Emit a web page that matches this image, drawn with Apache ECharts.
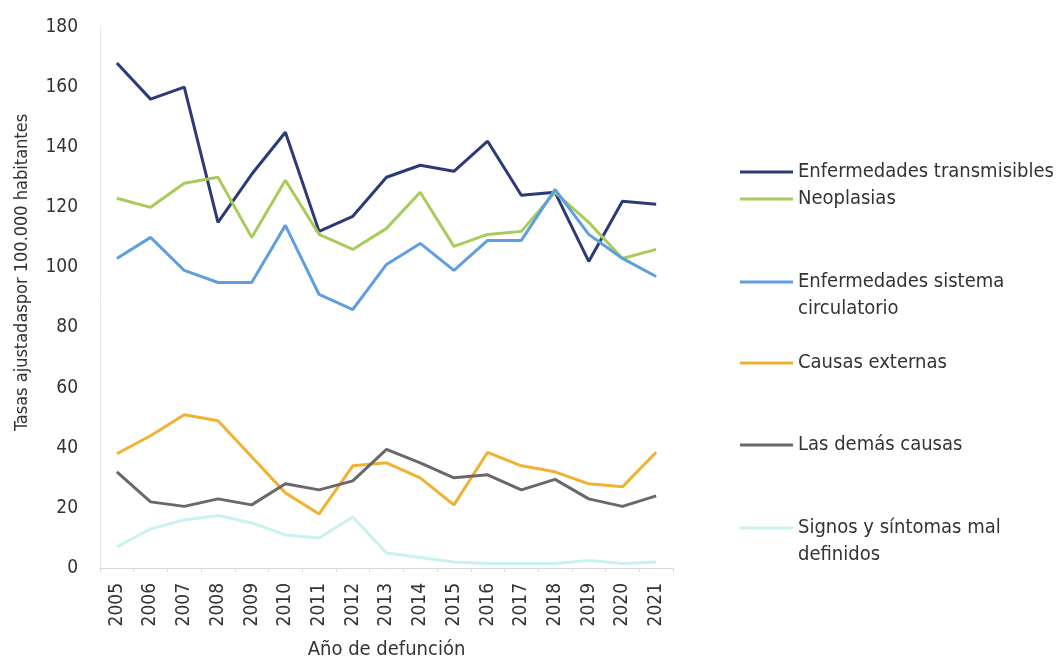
<!DOCTYPE html>
<html>
<head>
<meta charset="utf-8">
<script src="https://cdn.jsdelivr.net/npm/echarts@6/dist/echarts.min.js"></script>
<style>
  html, body { margin: 0; padding: 0; background: #fff; }
  #chart { width: 1060px; height: 660px; }
</style>
</head>
<body>
<div id="chart"></div>
<script>
"use strict";

// años de defunción
var years = ['2005', '2006', '2007', '2008', '2009', '2010', '2011', '2012', '2013',
             '2014', '2015', '2016', '2017', '2018', '2019', '2020', '2021'];

// tasas ajustadas por 100.000 habitantes
var transmisibles = [168, 156, 160, 115, 131, 145, 112, 117, 130, 134, 132, 142, 124, 125, 102, 122, 121];
var neoplasias    = [123, 120, 128, 130, 110, 129, 111, 106, 113, 125, 107, 111, 112, 125, 115, 103, 106];
var circulatorio  = [103, 110, 99, 95, 95, 114, 91, 86, 101, 108, 99, 109, 109, 126, 111, 103, 97];
var externas      = [38, 44, 51, 49, 37, 25, 18, 34, 35, 30, 21, 38.5, 34, 32, 28, 27, 38.5];
var demas         = [32, 22, 20.5, 23, 21, 28, 26, 29, 39.5, 35, 30, 31, 26, 29.5, 23, 20.5, 24];
var signos        = [7, 13, 16, 17.5, 15, 11, 10, 17, 5, 3.5, 2, 1.5, 1.5, 1.5, 2.5, 1.5, 2];

var seriesNames = ['Enfermedades transmisibles', 'Neoplasias',
  'Enfermedades sistema circulatorio', 'Causas externas', 'Las demás causas',
  'Signos y síntomas mal definidos'];
// texto de la leyenda (línea en blanco arriba para que la raya quede en la 1a línea)
var legendLabels = ['Enfermedades transmisibles', 'Neoplasias',
  ' \nEnfermedades sistema\ncirculatorio', 'Causas externas', 'Las demás causas',
  ' \nSignos y síntomas mal\ndefinidos'];
var seriesData = [transmisibles, neoplasias, circulatorio, externas, demas, signos];
var colors = ['#2c3a76', '#a8cc5c', '#5f9fe0', '#f0b232', '#6b676d', '#c9f2f0'];
var legendCenters = [172, 199, 282, 363, 445, 528];

var font = '"DejaVu Sans Condensed", "Liberation Sans", Arial, sans-serif';
var LH = 27;

var myChart = echarts.init(document.getElementById('chart'));

var series = [];
var legends = [];
for (var i = 0; i < seriesNames.length; i++) {
	series.push({
		name: seriesNames[i],
		type: 'line',
		data: seriesData[i],
		showSymbol: false,
		symbol: 'none',
		lineStyle: { color: colors[i], width: 3 },
		itemStyle: { color: colors[i] },
		animation: false
	});
	var nLines = legendLabels[i].split('\n').length;
	legends.push({
		data: [seriesNames[i]],
		left: 740,
		top: legendCenters[i] - LH * nLines / 2,
		padding: 0,
		icon: 'rect',
		itemWidth: 53,
		itemHeight: 3,
		itemGap: 0,
		formatter: (function (lbl) { return function () { return lbl; }; })(legendLabels[i]),
		textStyle: { fontFamily: font, fontSize: 20, color: '#333', lineHeight: LH },
		selectedMode: false
	});
}

var option = {
	backgroundColor: '#fff',
	color: colors,
	legend: legends,
	grid: { left: 100, right: 387, top: 27, bottom: 92, containLabel: false, outerBoundsMode: 'none' },
	xAxis: {
		type: 'category',
		data: years,
		name: 'Año de defunción',
		nameLocation: 'middle',
		nameGap: 72,
		nameTextStyle: { fontFamily: font, fontSize: 20, color: '#333' },
		axisLine: { lineStyle: { color: '#d9d9d9', width: 1 } },
		axisTick: { show: true, lineStyle: { color: '#d9d9d9' }, length: 4 },
		axisLabel: { rotate: 90, fontFamily: font, fontSize: 19, color: '#333', margin: 15 }
	},
	yAxis: {
		type: 'value',
		min: 0,
		max: 180,
		interval: 20,
		name: 'Tasas ajustadaspor 100.000 habitantes',
		nameLocation: 'middle',
		nameGap: 69,
		nameTextStyle: { fontFamily: font, fontSize: 18, color: '#333', padding: [0, 0, 0, 50] },
		axisLine: { show: true, lineStyle: { color: '#e6e6e6', width: 1 } },
		axisTick: { show: false },
		splitLine: { show: false },
		axisLabel: { fontFamily: font, fontSize: 19, color: '#333', margin: 22 }
	},
	series: series
};

myChart.setOption(option);
</script>
</body>
</html>
